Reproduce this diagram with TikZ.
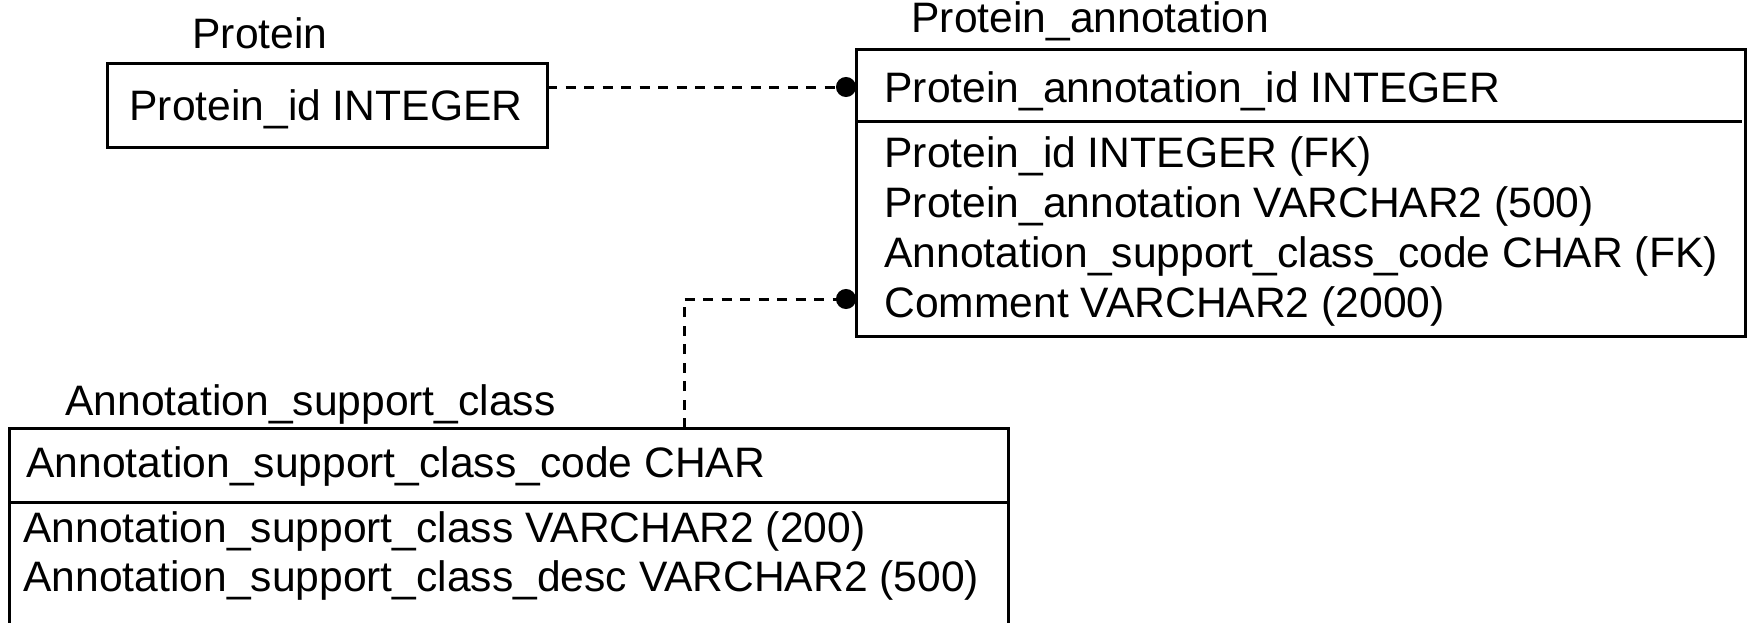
\documentclass[tikz,border=0pt]{standalone}
\usepackage{fontspec}
\setmainfont{Liberation Sans}
\usetikzlibrary{arrows.meta}
\begin{document}
\begin{tikzpicture}[x=0.5pt,y=-0.5pt,
  ebox/.style={draw, line width=1.5pt, inner sep=0pt, outer sep=0pt, anchor=north west},
  divline/.style={line width=1.5pt},
  txt/.style={anchor=base west, inner sep=0pt, font=\fontsize{21.3}{25}\selectfont},
  rel/.style={dash pattern=on 5pt off 4.25pt, line width=1.5pt},
  dot/.style={-{Circle[length=10pt,width=10pt]}}]
\useasboundingbox (0,0) rectangle (1753,622);
\clip (0,0) rectangle (1753,622);

% Protein
\node[ebox, minimum width=220pt, minimum height=42pt] (prot) at (107,63) {};
\node[txt] (protlbl) at (192,48) {Protein};
\node[txt] (protid) at (129,120) {Protein\_id INTEGER};

% Protein_annotation
\node[ebox, minimum width=444.5pt, minimum height=143.5pt] (pa) at (856,49) {};
\node[txt] (palbl) at (911,32) {Protein\_annotation};
\draw[divline] (856,121) -- (1742,121);
\node[txt] (pa1) at (884,102) {Protein\_annotation\_id INTEGER};
\node[txt] (pa2) at (884,167) {Protein\_id INTEGER (FK)};
\node[txt] (pa3) at (884,217) {Protein\_annotation VARCHAR2 (500)};
\node[txt] (pa4) at (884,267) {Annotation\_support\_class\_code CHAR (FK)};
\node[txt] (pa5) at (884,317) {Comment VARCHAR2 (2000)};

% Annotation_support_class
\node[ebox, minimum width=499.5pt, minimum height=106pt] (asc) at (9,428) {};
\node[txt] (asclbl) at (65,415) {Annotation\_support\_class};
\draw[divline] (9,502) -- (1008,502);
\node[txt] (asc1) at (26,477) {Annotation\_support\_class\_code CHAR};
\node[txt] (asc2) at (23,542) {Annotation\_support\_class VARCHAR2 (200)};
\node[txt] (asc3) at (23,591) {Annotation\_support\_class\_desc VARCHAR2 (500)};

% relationships
\coordinate (pk) at (856,87);
\draw[rel, dot] (prot.east |- pk) -- (pk);
\coordinate (ck) at (856,299);
\coordinate (bend) at (684,299);
\draw[rel, dot] (bend |- asc.north) -- (bend) -- (ck);
\end{tikzpicture}
\end{document}
